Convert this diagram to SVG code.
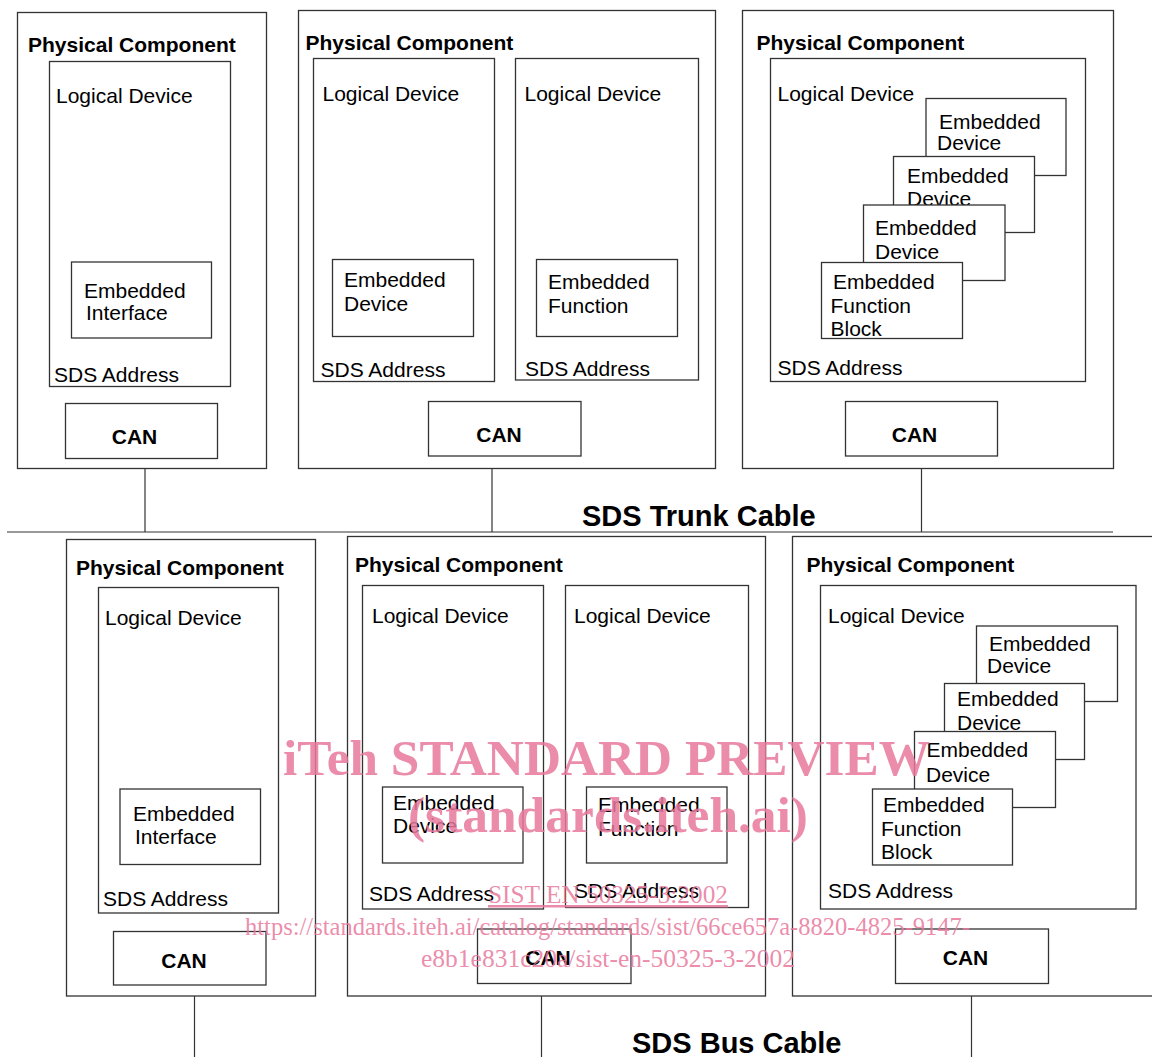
<svg xmlns="http://www.w3.org/2000/svg" width="1152" height="1057" viewBox="0 0 1152 1057">
<style>
.b{fill:#fff;stroke:#333;stroke-width:1.3}
.c{fill:none;stroke:#333;stroke-width:1.2}
text{font-family:"Liberation Sans",Arial,sans-serif;font-size:21px;fill:#000}
.t{font-weight:bold}
.m{text-anchor:middle;font-weight:bold}
.cab{font-weight:bold;font-size:29px}
.w{font-family:"Liberation Serif","Times New Roman",serif;fill:#e8789c;fill-opacity:0.85}
.wb{font-weight:bold;font-size:51px}
.ws{font-size:25px}
</style>
<rect width="1152" height="1057" fill="#fff"/>
<g id="connectors">
<line class="c" x1="7" y1="532" x2="1113" y2="532"/>
<line class="c" x1="145" y1="469" x2="145" y2="532"/>
<line class="c" x1="492" y1="469" x2="492" y2="532"/>
<line class="c" x1="921.5" y1="469" x2="921.5" y2="532"/>
<line class="c" x1="194.5" y1="996" x2="194.5" y2="1057"/>
<line class="c" x1="541.5" y1="996" x2="541.5" y2="1057"/>
<line class="c" x1="971.5" y1="996" x2="971.5" y2="1057"/>
</g>
<text class="cab" x="582" y="526">SDS Trunk Cable</text>
<text class="cab" x="632" y="1053">SDS Bus Cable</text>

<g id="pc1">
<rect class="b" x="17.5" y="12.5" width="249" height="456"/>
<text class="t" x="28" y="52">Physical Component</text>
<rect class="b" x="49.5" y="61.5" width="181" height="325"/>
<text x="56" y="103">Logical Device</text>
<rect class="b" x="71.5" y="262" width="140" height="76"/>
<text x="84" y="298">Embedded</text>
<text x="86" y="320">Interface</text>
<text x="54" y="382">SDS Address</text>
<rect class="b" x="65.5" y="403.5" width="152" height="55"/>
<text class="m" x="134.5" y="444">CAN</text>
</g>

<g id="pc2">
<rect class="b" x="298.5" y="10.5" width="417" height="458"/>
<text class="t" x="305.5" y="50">Physical Component</text>
<rect class="b" x="313.5" y="58.5" width="181" height="323"/>
<text x="322.5" y="101">Logical Device</text>
<rect class="b" x="332.5" y="259.5" width="141" height="77"/>
<text x="344" y="287">Embedded</text>
<text x="344" y="310.5">Device</text>
<text x="320.5" y="377">SDS Address</text>
<rect class="b" x="515.5" y="58.5" width="183" height="321.5"/>
<text x="524.5" y="101">Logical Device</text>
<rect class="b" x="536.5" y="259.5" width="141" height="77"/>
<text x="548" y="288.5">Embedded</text>
<text x="548" y="312.5">Function</text>
<text x="525" y="375.5">SDS Address</text>
<rect class="b" x="428.5" y="401.5" width="152.5" height="54.5"/>
<text class="m" x="499" y="441.5">CAN</text>
</g>

<g id="pc3">
<rect class="b" x="742.5" y="10.5" width="371" height="458"/>
<text class="t" x="756.5" y="50">Physical Component</text>
<rect class="b" x="770.5" y="58.5" width="315" height="323"/>
<text x="777.5" y="101">Logical Device</text>
<rect class="b" x="926" y="98.5" width="140" height="77"/>
<text x="939" y="129">Embedded</text>
<text x="937" y="150">Device</text>
<rect class="b" x="893.5" y="156.5" width="141" height="76"/>
<text x="907" y="182.5">Embedded</text>
<text x="907" y="206">Device</text>
<rect class="b" x="863.5" y="205" width="141.5" height="75.5"/>
<text x="875" y="235">Embedded</text>
<text x="875" y="259">Device</text>
<rect class="b" x="821.5" y="262.5" width="141" height="76"/>
<text x="833" y="288.5">Embedded</text>
<text x="830.5" y="312.5">Function</text>
<text x="830.5" y="335.5">Block</text>
<text x="777.5" y="375">SDS Address</text>
<rect class="b" x="845.5" y="401.5" width="152" height="54.5"/>
<text class="m" x="914.5" y="441.5">CAN</text>
</g>

<g id="pc4">
<rect class="b" x="66.5" y="539.5" width="249" height="456.5"/>
<text class="t" x="76" y="575">Physical Component</text>
<rect class="b" x="98.5" y="587.5" width="180" height="325.5"/>
<text x="105" y="625">Logical Device</text>
<rect class="b" x="120" y="789" width="140.5" height="75.5"/>
<text x="133" y="821">Embedded</text>
<text x="135" y="844">Interface</text>
<text x="103" y="905.5">SDS Address</text>
<rect class="b" x="113.5" y="931.5" width="152.5" height="53.5"/>
<text class="m" x="184" y="967.5">CAN</text>
</g>

<g id="pc5">
<rect class="b" x="347.5" y="536.5" width="418" height="459.5"/>
<text class="t" x="355" y="571.5">Physical Component</text>
<rect class="b" x="362.5" y="585.5" width="181" height="323.5"/>
<text x="372" y="622.5">Logical Device</text>
<rect class="b" x="382.5" y="787" width="140.5" height="76"/>
<text x="393" y="810">Embedded</text>
<text x="393" y="833">Device</text>
<text x="369" y="901">SDS Address</text>
<rect class="b" x="565.5" y="585.5" width="183" height="322"/>
<text x="574" y="622.5">Logical Device</text>
<rect class="b" x="586.5" y="787" width="140.5" height="76"/>
<text x="598" y="811.5">Embedded</text>
<text x="598" y="835.5">Function</text>
<text x="574" y="897.5">SDS Address</text>
<rect class="b" x="477.5" y="929" width="153.5" height="54.5"/>
<text class="m" x="548" y="965">CAN</text>
</g>

<g id="pc6">
<rect class="b" x="792.5" y="536.5" width="380" height="459.5"/>
<text class="t" x="806.5" y="571.5">Physical Component</text>
<rect class="b" x="820.5" y="585.5" width="315.5" height="323.5"/>
<text x="828" y="622.5">Logical Device</text>
<rect class="b" x="976.5" y="626" width="141" height="75.5"/>
<text x="989" y="650.5">Embedded</text>
<text x="987" y="672.5">Device</text>
<rect class="b" x="944.5" y="683.5" width="140" height="76"/>
<text x="957" y="705.5">Embedded</text>
<text x="957" y="729.5">Device</text>
<rect class="b" x="914.5" y="731.5" width="141" height="76"/>
<text x="926.5" y="756.5">Embedded</text>
<text x="926" y="782">Device</text>
<rect class="b" x="872.5" y="789" width="140" height="76"/>
<text x="883" y="811.5">Embedded</text>
<text x="881" y="835.5">Function</text>
<text x="881" y="858.5">Block</text>
<text x="828" y="898">SDS Address</text>
<rect class="b" x="895.5" y="929" width="153" height="54.5"/>
<text class="m" x="965.5" y="965">CAN</text>
</g>

<g id="watermark">
<text class="w wb" x="283" y="775" textLength="647" lengthAdjust="spacingAndGlyphs">iTeh STANDARD PREVIEW</text>
<text class="w wb" x="408" y="832" textLength="400" lengthAdjust="spacingAndGlyphs">(standards.iteh.ai)</text>
<text class="w ws" x="488" y="903" textLength="240" lengthAdjust="spacingAndGlyphs" text-decoration="underline">SIST EN 50325-3:2002</text>
<text class="w ws" x="245" y="935" textLength="725" lengthAdjust="spacingAndGlyphs">https://standards.iteh.ai/catalog/standards/sist/66ce657a-8820-4825-9147-</text>
<text class="w ws" x="421" y="967" textLength="374" lengthAdjust="spacingAndGlyphs">e8b1e831c20a/sist-en-50325-3-2002</text>
</g>
</svg>
